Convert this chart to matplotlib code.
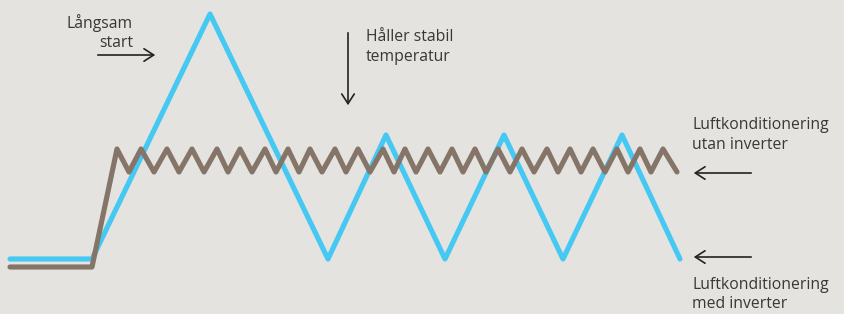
import matplotlib.pyplot as plt

# Blue line: "Luftkonditionering med inverter"
blue_t = [10, 92, 210, 328, 386, 445, 504, 563, 622, 680]
blue_temp = [55, 55, 300, 55, 179, 55, 179, 55, 179, 55]

# Brown line: "Luftkonditionering utan inverter" (zigzag)
brown_start_t = [10, 92]
brown_start_temp = [47, 47]
peak_t = [117, 141, 167, 192, 217, 240, 265, 288, 310, 335, 358, 383,
          405, 428, 452, 475, 498, 522, 547, 570, 593, 617, 640, 663]
trough_t = [129, 154, 179, 204, 228, 252, 276, 299, 322, 346, 370, 394,
            416, 440, 463, 486, 510, 534, 558, 581, 605, 628, 651, 677]
peak_temp = 165
trough_temp = 142

brown_t = list(brown_start_t)
brown_temp = list(brown_start_temp)
for p, tr in zip(peak_t, trough_t):
    brown_t += [p, tr]
    brown_temp += [peak_temp, trough_temp]

bg = '#e5e3df'
blue = '#45c8f2'
brown = '#857468'
txt = '#383838'

fig = plt.figure(figsize=(8.44, 3.14), dpi=100, facecolor=bg)
ax = fig.add_axes([0, 0, 1, 1])
ax.set_facecolor(bg)
ax.set_xlim(0, 844)
ax.set_ylim(0, 314)
ax.axis('off')

ax.plot(blue_t, blue_temp, color=blue, lw=3.7, solid_capstyle='round',
        solid_joinstyle='round', zorder=2)
ax.plot(brown_t, brown_temp, color=brown, lw=3.7, solid_capstyle='round',
        solid_joinstyle='round', zorder=3)

font = 'Open Sans'
fs = 11.3
arrow = dict(arrowstyle='->,head_length=0.7,head_width=0.45', color='#222222', lw=1.2)

def label(x, y, s, ha='left'):
    ax.text(x, y, s, ha=ha, va='center', fontsize=fs, color=txt, family=font)

# Långsam start
label(133, 291, 'Långsam', ha='right')
label(133, 271, 'start', ha='right')
ax.annotate('', xy=(158, 259), xytext=(95, 259), arrowprops=arrow)

# Håller stabil temperatur
label(366, 277, 'Håller stabil')
label(366, 257, 'temperatur')
ax.annotate('', xy=(348, 206), xytext=(348, 284), arrowprops=arrow)

# right side labels
label(692, 189, 'Luftkonditionering')
label(692, 169, 'utan inverter')
ax.annotate('', xy=(691, 141), xytext=(754, 141), arrowprops=arrow)
ax.annotate('', xy=(691, 57), xytext=(754, 57), arrowprops=arrow)
label(692, 29, 'Luftkonditionering')
label(692, 10, 'med inverter')

fig.savefig('out.png', dpi=100, facecolor=bg)
